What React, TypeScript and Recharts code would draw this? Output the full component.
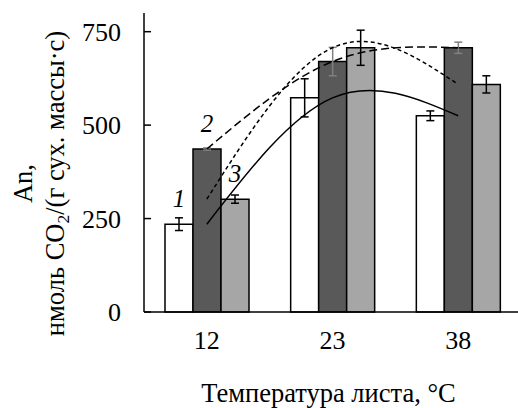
import React from 'react';
import { ComposedChart, Bar, Line, XAxis, YAxis, ErrorBar, LabelList } from 'recharts';

const categories = ['12', '23', '38'];
const series1 = [235, 573, 525];
const error1 = [17, 51, 13];
const series2 = [436, 670, 707];
const error2 = [3, 38, 15];
const series3 = [302, 707, 609];
const error3 = [11, 47, 23];
const seriesNames = ['1', '2', '3'];
const yTicks = [0, 250, 500, 750];

const data = categories.map((c, i) => ({
  t: c,
  s1: series1[i],
  e1: error1[i],
  s2: series2[i],
  e2: error2[i],
  s3: series3[i],
  e3: error3[i],
}));

const FONT = '"Liberation Serif", "Times New Roman", Times, serif';

const makeSeriesLabel = (name: string) => (props: any) => {
  const { x, y, width, index } = props;
  if (index !== 0) return null;
  return (
    <text
      x={Number(x) + Number(width) / 2}
      y={Number(y) - 17}
      textAnchor="middle"
      fontFamily={FONT}
      fontStyle="italic"
      fontSize={25}
      fill="#000"
    >
      {name}
    </text>
  );
};

const YLabel = (props: any) => {
  const vb = props.viewBox || { x: 0, y: 13, width: 144, height: 299 };
  const cy = vb.y + vb.height / 2 + 21;
  const b1 = vb.x + 32;
  const b2 = vb.x + 64;
  return (
    <g>
      <text
        x={b1}
        y={cy}
        transform={`rotate(-90 ${b1} ${cy})`}
        textAnchor="middle"
        fontFamily={FONT}
        fontSize={26.5}
        fill="#000"
      >
        An,
      </text>
      <text
        x={b2}
        y={cy}
        transform={`rotate(-90 ${b2} ${cy})`}
        textAnchor="middle"
        fontFamily={FONT}
        fontSize={26.5}
        fill="#000"
      >
        <tspan>нмоль CO</tspan>
        <tspan fontSize={17.5} dy={5}>2</tspan>
        <tspan dy={-5}>/(г сух. массы·с)</tspan>
      </text>
    </g>
  );
};

const XLabel = (props: any) => {
  const vb = props.viewBox || { x: 144, y: 312, width: 377, height: 96 };
  return (
    <text
      x={vb.x + vb.width / 2 - 4}
      y={vb.y + 90}
      textAnchor="middle"
      fontFamily={FONT}
      fontSize={26.5}
      fill="#000"
    >
      Температура листа, °C
    </text>
  );
};

export default function App() {
  return (
    <div style={{ position: 'absolute', left: 0, top: 0, width: 518, height: 408, overflow: 'hidden', background: '#fff' }}>
      <ComposedChart
        width={530}
        height={408}
        data={data}
        margin={{ top: 13, right: 9, left: 0, bottom: 0 }}
        barGap={0}
      >
        <XAxis
          dataKey="t"
          height={96}
          tickLine={false}
          tickSize={0}
          tickMargin={19}
          axisLine={{ stroke: '#000', strokeWidth: 1.5 }}
          tick={{ fill: '#000', fontSize: 26, fontFamily: FONT }}
          label={<XLabel />}
        />
        <YAxis
          width={144}
          domain={[0, 800]}
          ticks={yTicks}
          tickSize={-7}
          tickMargin={30}
          axisLine={{ stroke: '#000', strokeWidth: 1.5 }}
          tickLine={{ stroke: '#000', strokeWidth: 1.5 }}
          tick={{ fill: '#000', fontSize: 26, fontFamily: FONT }}
          label={<YLabel />}
        />
        <Bar dataKey="s1" barSize={28} fill="#ffffff" stroke="#000" strokeWidth={1.5} isAnimationActive={false}>
          <ErrorBar dataKey="e1" width={4} stroke="#000" strokeWidth={1.5} />
          <LabelList dataKey="s1" content={makeSeriesLabel(seriesNames[0])} />
        </Bar>
        <Bar dataKey="s2" barSize={28} fill="#595959" stroke="#000" strokeWidth={1.5} isAnimationActive={false}>
          <ErrorBar dataKey="e2" width={4} stroke="#808080" strokeWidth={1.5} />
          <LabelList dataKey="s2" content={makeSeriesLabel(seriesNames[1])} />
        </Bar>
        <Bar dataKey="s3" barSize={28} fill="#a6a6a6" stroke="#000" strokeWidth={1.5} isAnimationActive={false}>
          <ErrorBar dataKey="e3" width={4} stroke="#000" strokeWidth={1.5} />
          <LabelList dataKey="s3" content={makeSeriesLabel(seriesNames[2])} />
        </Bar>
        <Line dataKey="s1" type="natural" stroke="#000" strokeWidth={1.5} dot={false} activeDot={false} isAnimationActive={false} />
        <Line dataKey="s2" type="natural" stroke="#000" strokeWidth={1.5} strokeDasharray="8 4" dot={false} activeDot={false} isAnimationActive={false} />
        <Line dataKey="s3" type="natural" stroke="#000" strokeWidth={1.5} strokeDasharray="4 3" dot={false} activeDot={false} isAnimationActive={false} />
      </ComposedChart>
    </div>
  );
}
